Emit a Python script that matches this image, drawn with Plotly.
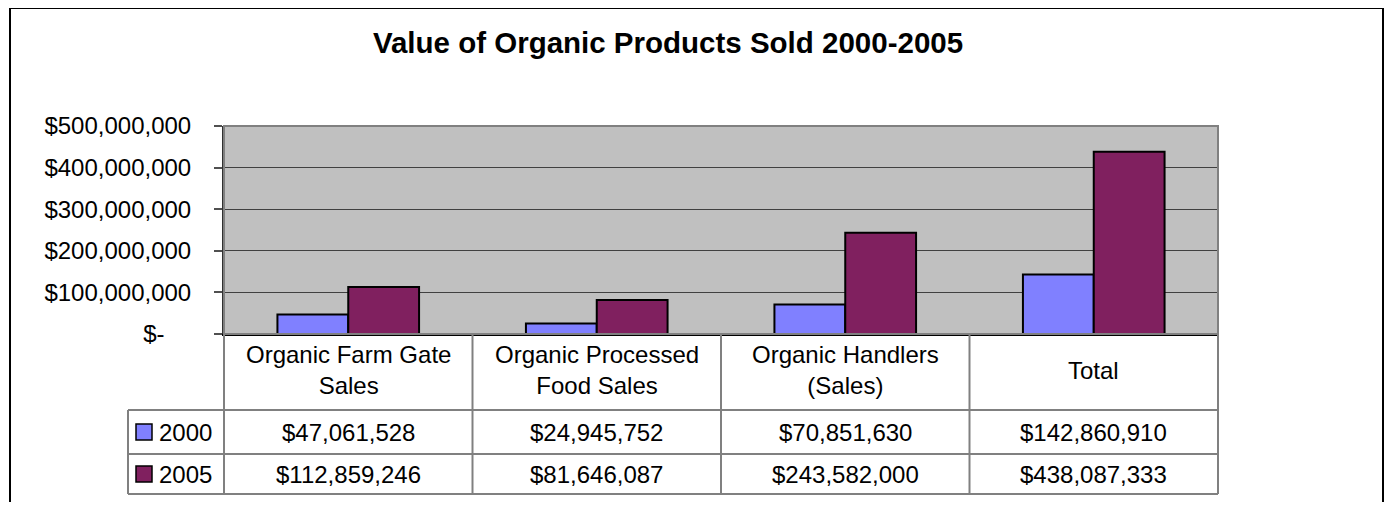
import plotly.graph_objects as go

# ---------------- data ----------------
categories = ["Organic Farm Gate Sales", "Organic Processed Food Sales",
              "Organic Handlers (Sales)", "Total"]
category_labels = ["Organic Farm Gate<br>Sales", "Organic Processed<br>Food Sales",
                   "Organic Handlers<br>(Sales)", "Total"]
series_names = ["2000", "2005"]
values_2000 = [47061528, 24945752, 70851630, 142860910]
values_2005 = [112859246, 81646087, 243582000, 438087333]
y_tickvals = [0, 100000000, 200000000, 300000000, 400000000, 500000000]
y_ticktext = ["$-\u2007\u2007", "$100,000,000", "$200,000,000", "$300,000,000",
              "$400,000,000", "$500,000,000"]
title_text = "Value of Organic Products Sold 2000-2005"

# ---------------- layout geometry (pixels, page coordinates) ----------------
OFF = 8                                 # browser body margin
W, H = 1393 - OFF, 510 - 2 * OFF        # keep the page from overflowing
PL, PR, PT, PB = 224, 1218, 126, 334    # plot area box on the page
colors = ["#8080FF", "#80205F"]
FONT = "Liberation Sans, Arial, sans-serif"


def px_x(px):
    return (px - PL) / (PR - PL)


def px_y(py):
    return (PB - py) / (PB - PT)


fig = go.Figure()
for name, vals, col in zip(series_names, [values_2000, values_2005], colors):
    fig.add_trace(go.Bar(x=categories, y=vals, name=name,
                         marker=dict(color=col, line=dict(color="black", width=2))))

shapes = []
annotations = []

# outer chart border
shapes.append(dict(type="rect", xref="paper", yref="paper",
                   x0=px_x(10), x1=px_x(1383), y0=px_y(540), y1=px_y(8),
                   line=dict(color="black", width=2), layer="below"))
# plot-area border
shapes.append(dict(type="rect", xref="paper", yref="paper", x0=0, x1=1, y0=0, y1=1,
                   line=dict(color="#808080", width=2), layer="above"))

# data table
n = len(categories)
row_tops = [334, 410, 454, 494]          # header, 2000 row, 2005 row, bottom
legend_left = 128
tcol = "#808080"
for i in range(n + 1):
    xp = i / n
    shapes.append(dict(type="line", xref="paper", yref="paper", x0=xp, x1=xp,
                       y0=px_y(row_tops[0]), y1=px_y(row_tops[-1]),
                       line=dict(color=tcol, width=2)))
shapes.append(dict(type="line", xref="paper", yref="paper", x0=px_x(legend_left),
                   x1=px_x(legend_left), y0=px_y(row_tops[1]), y1=px_y(row_tops[-1]),
                   line=dict(color=tcol, width=2)))
for r in row_tops[1:]:
    shapes.append(dict(type="line", xref="paper", yref="paper", x0=px_x(legend_left),
                       x1=1, y0=px_y(r), y1=px_y(r), line=dict(color=tcol, width=2)))

# header labels
hdr_mid = (row_tops[0] + row_tops[1]) / 2
for cat, lab in zip(categories, category_labels):
    annotations.append(dict(x=cat, xref="x", y=px_y(hdr_mid - 2), yref="paper",
                            text=lab, showarrow=False, yanchor="middle",
                            font=dict(size=24, color="black", family=FONT)))

# rows
for k, (name, vals, col) in enumerate(zip(series_names, [values_2000, values_2005], colors)):
    mid = (row_tops[k + 1] + row_tops[k + 2]) / 2
    shapes.append(dict(type="rect", xref="paper", yref="paper",
                       x0=px_x(136), x1=px_x(152), y0=px_y(mid + 8), y1=px_y(mid - 8),
                       fillcolor=col, line=dict(color="black", width=1.5)))
    annotations.append(dict(x=px_x(157), xref="paper", y=px_y(mid), yref="paper",
                            text=name, showarrow=False, xanchor="left", yanchor="middle",
                            font=dict(size=24, color="black", family=FONT)))
    for cat, v in zip(categories, vals):
        annotations.append(dict(x=cat, xref="x", y=px_y(mid), yref="paper",
                                text=f"${v:,.0f}", showarrow=False, yanchor="middle",
                                font=dict(size=24, color="black", family=FONT)))

fig.update_layout(
    width=W, height=H, autosize=False,
    margin=dict(l=PL - OFF, r=W - (PR - OFF), t=PT - OFF, b=H - (PB - OFF), pad=0),
    paper_bgcolor="white", plot_bgcolor="#C0C0C0",
    showlegend=False,
    barmode="group", bargap=0.43, bargroupgap=0,
    title=dict(text=f"<b>{title_text}</b>", x=(668 - OFF) / W, y=1 - (43 - OFF) / H,
               xanchor="center", yanchor="middle", xref="container", yref="container",
               font=dict(size=29.5, color="black", family=FONT)),
    xaxis=dict(type="category", categoryorder="array", categoryarray=categories,
               range=[-0.5, n - 0.5], showticklabels=False, showgrid=False,
               showline=True, linecolor="black", linewidth=2, ticks="", zeroline=False),
    yaxis=dict(range=[0, 500000000], tickvals=y_tickvals, ticktext=y_ticktext,
               showgrid=True, gridcolor="#404040", gridwidth=1,
               ticks="outside", ticklen=8, tickcolor="#505050", tickwidth=2,
               showline=True, linecolor="#303030", linewidth=2, zeroline=False,
               ticklabelstandoff=18,
               tickfont=dict(size=24, color="black", family=FONT)),
    shapes=shapes, annotations=annotations,
)

fig.write_html("out.html")
